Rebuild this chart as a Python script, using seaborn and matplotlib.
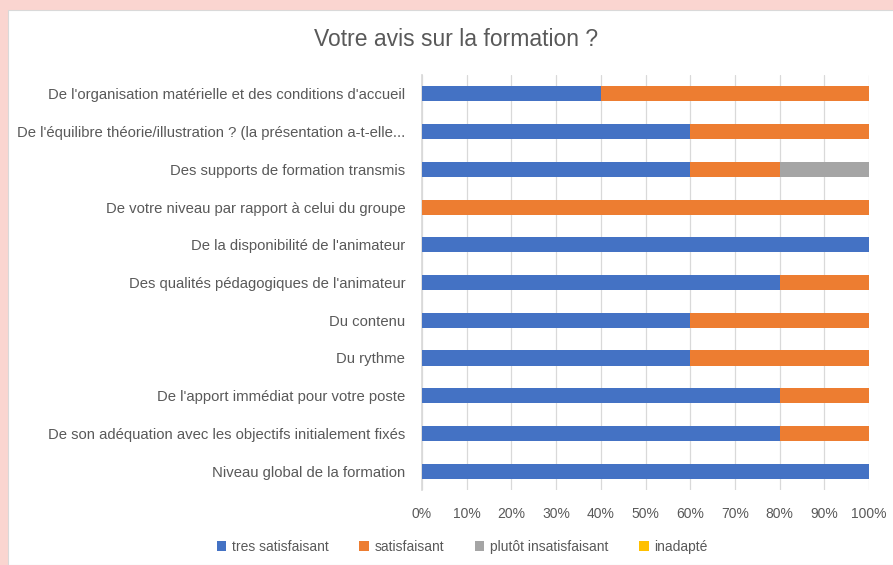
import pandas as pd
import numpy as np
import matplotlib
matplotlib.use("Agg")
import matplotlib.pyplot as plt
from matplotlib.patches import Rectangle, Patch
import seaborn as sns

# DATA
questions = [
    "De l'organisation matérielle et des conditions d'accueil",
    "De l'équilibre théorie/illustration ? (la présentation a-t-elle...",
    "Des supports de formation transmis",
    "De votre niveau par rapport à celui du groupe",
    "De la disponibilité de l'animateur",
    "Des qualités pédagogiques de l'animateur",
    "Du contenu",
    "Du rythme",
    "De l'apport immédiat pour votre poste",
    "De son adéquation avec les objectifs initialement fixés",
    "Niveau global de la formation",
]
tres_satisfaisant = [40, 60, 60, 0, 100, 80, 60, 60, 80, 80, 100]
satisfaisant = [60, 40, 20, 100, 0, 20, 40, 40, 20, 20, 0]
plutot_insatisfaisant = [0, 0, 20, 0, 0, 0, 0, 0, 0, 0, 0]
inadapte = [0, 0, 0, 0, 0, 0, 0, 0, 0, 0, 0]

series = ["tres satisfaisant", "satisfaisant", "plutôt insatisfaisant", "inadapté"]
colors = ["#4472C4", "#ED7D31", "#A5A5A5", "#FFC000"]

df = pd.DataFrame({
    "question": questions,
    series[0]: tres_satisfaisant,
    series[1]: satisfaisant,
    series[2]: plutot_insatisfaisant,
    series[3]: inadapte,
})
# cumulative ends of each segment, drawn back to front
cum = df[series].cumsum(axis=1)

sns.set_theme(style="white")
plt.rcParams['font.family'] = ['Liberation Sans Narrow', 'Liberation Sans', 'DejaVu Sans']
text_col = "#595959"

fig = plt.figure(figsize=(8.93, 5.65), dpi=100)
fig.patch.set_facecolor("#FAD5D0")
fig.patches.append(Rectangle((8 / 893, 0), 1, 555 / 565, transform=fig.transFigure,
                             facecolor="white", edgecolor="#D9D9D9", lw=0.8, zorder=-5))

ax = fig.add_axes([422 / 893, 1 - 490 / 565, 447 / 893, 415 / 565])
ax.set_facecolor("none")
ax.set_zorder(2)

for s, c in reversed(list(zip(series, colors))):
    sns.barplot(x=cum[s], y=df["question"], color=c, width=0.4, orient="h",
                ax=ax, saturation=1, zorder=3, linewidth=0)

ax.set_xlim(0, 100)
ax.set_xticks(np.arange(0, 101, 10))
ax.set_xticklabels([f"{v}%" for v in range(0, 101, 10)])
ax.xaxis.grid(True, color="#D9D9D9", lw=0.9, zorder=0)
ax.set_axisbelow(True)
ax.set_xlabel("")
ax.set_ylabel("")
for sp in ["top", "right", "bottom"]:
    ax.spines[sp].set_visible(False)
ax.spines["left"].set_color("#D9D9D9")
ax.tick_params(axis="x", length=0, colors=text_col, labelsize=10, pad=12)
ax.tick_params(axis="y", length=0, colors=text_col, labelsize=10.7, pad=12)

fig.text(456 / 893, 1 - 40 / 565, "Votre avis sur la formation ?", ha="center", va="center",
         fontsize=16.5, color=text_col)

handles = [Patch(facecolor=c, edgecolor="none") for c in colors]
fig.legend(handles, series, loc="center", bbox_to_anchor=(462 / 893, 1 - 547 / 565), ncol=4,
           frameon=False, fontsize=10, labelcolor=text_col, handlelength=0.7, handleheight=0.7,
           handletextpad=0.4, columnspacing=2.2)

fig.savefig("out.png", dpi=100)
